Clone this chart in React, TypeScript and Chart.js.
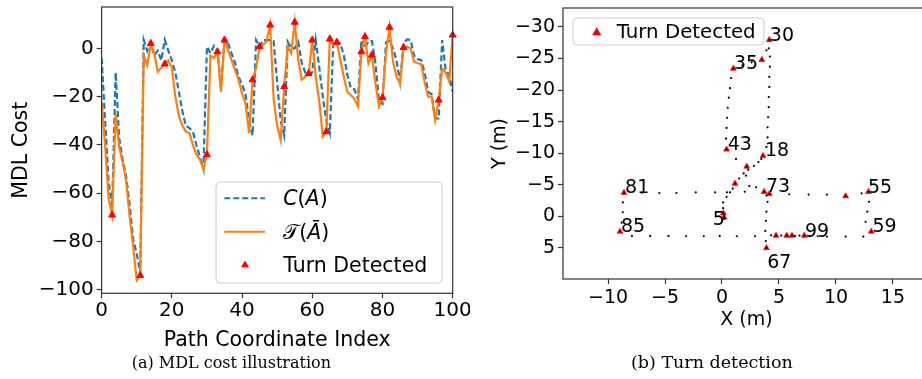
import React, { useEffect, useRef } from 'react';
import { Chart, registerables } from 'chart.js';

Chart.register(...registerables);

const BLUE = '#1f77b4';
const ORANGE = '#ff7f0e';
const RED = '#ff0000';
const FONT = '"DejaVu Sans", "Noto Sans", sans-serif';

// ---------- (a) MDL cost illustration ----------
const costC = [
  -4, -30, -55, -66, -10, -37, -46, -53, -65, -79,
  -85, -93, 3.5, -1, 2.5, -3, -1, -5, 3.5, -1,
  -5, -10, -18, -26, -32, -33, -34.5, -40, -45, -50,
  0.7, -2, 1, -1, -16, 3.4, 2, -2, -6, -11.7,
  -15, -19, -30, -36, 3.4, 0.7, 3.4, 3.4, 3.4, 3,
  -14, -30, -36, 2.7, 0, 0, 2.7, -6, -10, -11,
  -10, 3.4, -8, -20, -30, -35, 3, 2, 2, -3,
  -11, -16.5, -17, -21, 3.4, 0, 3, 3, -6, -22,
  -23, 2.5, 3, 0, -5, -14, 2, 3.7, 3.5, -3,
  -4.5, -4.8, -10, -18, -19, -29, -29, 3.4, -9, -11,
  -18,
];
const costT = [
  -22, -40, -62, -69, -27, -41, -47, -55, -70, -82,
  -96, -94, -3, -7, 2, -2, -9.7, -8, -6.5, -5,
  -8, -20, -28, -32, -34.5, -35, -40, -44, -46, -50,
  -44, -3, -4, -1.4, -18, 3.4, -0.7, -4.8, -9, -13,
  -18.6, -22.8, -35, -13, -8, 0.7, 1.4, 3, 9.6, -21,
  -32, -38, -15.9, 0.7, -2, 10.8, -4.8, -13, -11.7, -10.4,
  3.4, -12, -22, -36.6, -34.5, 3.9, 1.4, 2.5, -4.8, -12,
  -18, -19.3, -21, -24, -1.4, 4.8, -6.2, -2.8, -14.5, -24,
  -20.4, -2, 8.7, -5.5, -11.7, -14.5, 0.3, 0.7, 0, -5.5,
  -6.2, -6.5, -14, -20, -20, -29.7, -21.4, -8.3, -10, -13.8,
  5.5,
];
const leftTurnIdx = [3, 11, 14, 18, 30, 33, 35, 43, 45, 48, 52, 55, 59, 60, 64, 65, 67, 74, 75, 77, 80, 82, 86, 96, 100];
const leftXTicks = [0, 20, 40, 60, 80, 100];
const leftYTicks = [-100, -80, -60, -40, -20, 0];

// ---------- (b) Turn detection ----------
const pathX = [
  0.2, 0.18, 0.18, 0.18, 0.15, 0.12, 0.1, 0.1, 0.4, 0.7,
  0.95, 1.14, 1.5, 1.9, 2.3, 2.8, 3.2, 3.45, 3.6, 3.9,
  4.0, 4.0, 4.05, 4.1, 4.1, 4.15, 4.15, 4.2, 4.2, 4.1,
  4.15, 3.9, 3.5, 2.6, 1.8, 1.0, 0.8, 0.7, 0.6, 0.5,
  0.45, 0.4, 0.35, 0.4, 1.23, 2.17, 2.1, 2.4, 3.0, 4.15,
  5.9, 7.6, 9.2, 10.85, 12.25, 12.85, 12.9, 12.75, 12.6, 13.1,
  12.4, 10.85, 9.2, 7.7, 6.14, 4.74, 3.84, 3.9, 3.8, 3.85,
  3.9, 4.0, 3.9, 3.7, 2.0, 0.44, -0.6, -2.3, -4.0, -5.5,
  -7.05, -8.6, -8.7, -8.7, -8.8, -8.95, -7.9, -6.3, -4.7, -3.15,
  -1.6, -0.2, 1.3, 2.9, 4.3, 5.2, 5.68, 6.4, 6.8, 7.22,
  8.4,
];
const pathY = [
  0.4, 0.3, 0.15, 0.15, -0.2, -0.5, -1.3, -2.2, -3.1, -3.8,
  -4.4, -5.2, -6.0, -6.8, -7.4, -8.0, -8.6, -9.1, -9.6, -11.0,
  -12.5, -14.1, -15.7, -17.3, -18.9, -20.5, -22.1, -23.7, -25.3, -26.6,
  -27.95, -26.3, -24.8, -24.4, -23.9, -23.4, -21.9, -20.3, -18.8, -17.2,
  -15.6, -14.0, -12.3, -10.6, -9.1, -7.9, -6.45, -4.8, -4.6, -3.55,
  -3.5, -3.45, -3.45, -3.2, -3.65, -3.9, -2.3, -0.75, 0.85, 2.4,
  3.2, 3.2, 3.2, 3.15, 3.05, 3.05, 3.9, 5.0, 2.3, 0.7,
  -0.75, -2.3, -3.3, -3.9, -3.9, -3.8, -3.8, -3.8, -3.7, -3.7,
  -3.75, -3.75, -2.2, -0.65, 1.0, 2.4, 3.1, 3.1, 3.1, 3.15,
  3.15, 3.1, 3.15, 3.15, 3.0, 3.05, 3.05, 3.1, 3.05, 3.05,
  3.15,
];
const rightTurnIdx = [3, 5, 11, 18, 30, 32, 35, 43, 45, 49, 53, 55, 59, 64, 65, 67, 73, 81, 85, 96, 99];
const labelText = ['30', '35', '43', '18', '73', '55', '59', '99', '67', '5', '81', '85'];
const labelX = [4.2, 1.05, 0.5, 3.77, 3.86, 12.8, 13.2, 7.28, 3.97, -0.82, -8.5, -8.86];
const labelY = [-27.8, -23.3, -10.5, -9.5, -3.8, -3.75, 2.5, 3.2, 8.2, 1.36, -3.65, 2.5];
const rightXTicks = [-10, -5, 0, 5, 10, 15];
const rightYTicks = [-30, -25, -20, -15, -10, -5, 0, 5];

const legendA = [
  [['C', true], ['(', false], ['A', true], [')', false]],
  [['\u{1D4AF}', false], ['(', false], ['\u0100', true], [')', false]],
  [['Turn Detected', false]],
];
const legendB = 'Turn Detected';

const fmt = (v: number) => (v < 0 ? '\u2212' + Math.abs(v) : String(v));

function roundRect(ctx: any, x: number, y: number, w: number, h: number, r: number) {
  ctx.beginPath();
  ctx.moveTo(x + r, y);
  ctx.arcTo(x + w, y, x + w, y + h, r);
  ctx.arcTo(x + w, y + h, x, y + h, r);
  ctx.arcTo(x, y + h, x, y, r);
  ctx.arcTo(x, y, x + w, y, r);
  ctx.closePath();
}

function tri(ctx: any, x: number, y: number, r: number) {
  const a = (2 * Math.PI) / 3;
  ctx.beginPath();
  ctx.moveTo(x, y - r);
  ctx.lineTo(x + r * Math.sin(a), y - r * Math.cos(a));
  ctx.lineTo(x + r * Math.sin(2 * a), y - r * Math.cos(2 * a));
  ctx.closePath();
}

const framePlugin = {
  id: 'frame',
  afterDatasetsDraw(chart: any) {
    const { ctx, chartArea: a } = chart;
    ctx.save();
    ctx.strokeStyle = '#333';
    ctx.lineWidth = 1.2;
    ctx.strokeRect(a.left, a.top, a.right - a.left, a.bottom - a.top);
    ctx.restore();
  },
};

const legendLeftPlugin = {
  id: 'legendLeft',
  afterDraw(chart: any) {
    const { ctx, chartArea: a } = chart;
    const bw = 226, bh = 101;
    const bx = a.right - 10.7 - bw;
    const by = a.bottom - 10.3 - bh;
    ctx.save();
    roundRect(ctx, bx, by, bw, bh, 4);
    ctx.fillStyle = 'rgba(255,255,255,0.8)';
    ctx.fill();
    ctx.strokeStyle = '#cccccc';
    ctx.lineWidth = 1;
    ctx.stroke();
    const rows = [by + 16.3, by + 49.7, by + 83];
    const hx0 = bx + 8.3, hx1 = bx + 49;
    ctx.lineWidth = 2;
    ctx.strokeStyle = BLUE;
    ctx.setLineDash([6, 3]);
    ctx.beginPath(); ctx.moveTo(hx0, rows[0]); ctx.lineTo(hx1, rows[0]); ctx.stroke();
    ctx.setLineDash([]);
    ctx.strokeStyle = ORANGE;
    ctx.beginPath(); ctx.moveTo(hx0, rows[1]); ctx.lineTo(hx1, rows[1]); ctx.stroke();
    tri(ctx, bx + 29, rows[2], 4.6);
    ctx.fillStyle = RED;
    ctx.fill();
    ctx.fillStyle = '#000';
    ctx.textAlign = 'left';
    ctx.textBaseline = 'alphabetic';
    legendA.forEach((segs: any, k: number) => {
      let x = bx + 67.3;
      segs.forEach(([t, it]: any) => {
        ctx.font = (it ? 'italic ' : '') + '20.5px ' + FONT;
        ctx.fillText(t, x, rows[k] + 6.8);
        x += ctx.measureText(t).width;
      });
    });
    ctx.restore();
  },
};

const legendRightPlugin = {
  id: 'legendRight',
  afterDraw(chart: any) {
    const { ctx, chartArea: a } = chart;
    const bw = 191, bh = 27;
    const bx = a.left + 10, by = a.top + 10;
    ctx.save();
    roundRect(ctx, bx, by, bw, bh, 4);
    ctx.fillStyle = 'rgba(255,255,255,0.8)';
    ctx.fill();
    ctx.strokeStyle = '#cccccc';
    ctx.lineWidth = 1;
    ctx.stroke();
    tri(ctx, bx + 23.7, by + 14.6, 5.3);
    ctx.fillStyle = RED;
    ctx.fill();
    ctx.fillStyle = '#000';
    ctx.font = '19.8px ' + FONT;
    ctx.textAlign = 'left';
    ctx.textBaseline = 'alphabetic';
    ctx.fillText(legendB, bx + 43.7, by + 20.3);
    ctx.restore();
  },
};

const annotPlugin = {
  id: 'annot',
  afterDatasetsDraw(chart: any) {
    const { ctx, scales } = chart;
    ctx.save();
    ctx.fillStyle = '#000';
    ctx.font = '19px ' + FONT;
    ctx.textAlign = 'left';
    ctx.textBaseline = 'alphabetic';
    labelText.forEach((t, i) => {
      ctx.fillText(t, scales.x.getPixelForValue(labelX[i]), scales.y.getPixelForValue(labelY[i]));
    });
    ctx.restore();
  },
};

const tickGrid = { drawOnChartArea: false, drawTicks: true, tickLength: 5, tickWidth: 1.2, tickColor: '#333', color: '#333' };

const fixX = (h: number) => (s: any) => { s.height = h; s.paddingLeft = 0; s.paddingRight = 0; };
const fixY = (w: number) => (s: any) => { s.width = w; s.paddingTop = 0; s.paddingBottom = 0; };

function makeLeft(canvas: HTMLCanvasElement) {
  return new Chart(canvas, {
    type: 'line',
    data: {
      datasets: [
        {
          label: 'Turn Detected',
          data: leftTurnIdx.map((i) => ({ x: i, y: costT[i] })),
          showLine: false,
          pointStyle: 'triangle',
          pointRadius: 4,
          pointBackgroundColor: RED,
          pointBorderColor: RED,
          pointBorderWidth: 1,
          clip: false,
          order: 0,
        } as any,
        {
          label: 'T',
          data: costT.map((v, i) => ({ x: i, y: v })),
          borderColor: ORANGE,
          borderWidth: 2.2,
          pointRadius: 0,
          tension: 0,
          order: 1,
        },
        {
          label: 'C',
          data: costC.map((v, i) => ({ x: i, y: v })),
          borderColor: BLUE,
          borderWidth: 2.2,
          borderDash: [6, 3],
          pointRadius: 0,
          tension: 0,
          order: 2,
        },
      ],
    },
    options: {
      responsive: false,
      animation: false,
      devicePixelRatio: 1,
      layout: { padding: { left: 0, right: 470 - 452.7, top: 7, bottom: 0 } },
      plugins: { legend: { display: false }, tooltip: { enabled: false } },
      scales: {
        x: {
          type: 'linear',
          min: 0,
          max: 100,
          afterBuildTicks: (s: any) => { s.ticks = leftXTicks.map((v) => ({ value: v })); },
          afterFit: fixX(379 - 293.3),
          ticks: { font: { family: FONT, size: 20 }, color: '#000', padding: 0, maxRotation: 0, autoSkip: false, callback: (v: any) => fmt(v) },
          grid: tickGrid,
          border: { display: false },
          title: { display: true, text: 'Path Coordinate Index', color: '#000', font: { family: FONT, size: 20.5 }, padding: { top: 0, bottom: 26.2 } },
        },
        y: {
          type: 'linear',
          min: -101.4,
          max: 17.1,
          afterBuildTicks: (s: any) => { s.ticks = leftYTicks.map((v) => ({ value: v })); },
          afterFit: fixY(101.6),
          ticks: { font: { family: FONT, size: 20 }, color: '#000', padding: 3, autoSkip: false, callback: (v: any) => fmt(v) },
          grid: tickGrid,
          border: { display: false },
          title: { display: true, text: 'MDL Cost', color: '#000', font: { family: FONT, size: 20.5 }, padding: { top: 9.7, bottom: 0 } },
        },
      },
    } as any,
    plugins: [framePlugin, legendLeftPlugin],
  });
}

function makeRight(canvas: HTMLCanvasElement) {
  return new Chart(canvas, {
    type: 'scatter',
    data: {
      datasets: [
        {
          label: 'path',
          data: pathX.map((x, i) => ({ x, y: pathY[i] })),
          pointRadius: 1.1,
          pointBackgroundColor: '#000',
          pointBorderWidth: 0,
          showLine: false,
          order: 0,
        },
        {
          label: 'Turn Detected',
          data: rightTurnIdx.map((i) => ({ x: pathX[i], y: pathY[i] })),
          pointStyle: 'triangle',
          pointRadius: 3.3,
          pointBackgroundColor: RED,
          pointBorderColor: RED,
          pointBorderWidth: 0.8,
          showLine: false,
          order: 1,
        } as any,
      ],
    },
    options: {
      responsive: false,
      animation: false,
      devicePixelRatio: 1,
      layout: { padding: { left: 0, right: 10, top: 8, bottom: 0 } },
      plugins: { legend: { display: false }, tooltip: { enabled: false } },
      scales: {
        x: {
          type: 'linear',
          min: -13.95,
          max: 18.25,
          afterBuildTicks: (s: any) => { s.ticks = rightXTicks.map((v) => ({ value: v })); },
          afterFit: fixX(379 - 279),
          ticks: { font: { family: FONT, size: 19 }, color: '#000', padding: 3, maxRotation: 0, autoSkip: false, callback: (v: any) => fmt(v) },
          grid: tickGrid,
          border: { display: false },
          title: { display: true, text: 'X (m)', color: '#000', font: { family: FONT, size: 19 }, padding: { top: 0, bottom: 47.3 } },
        },
        y: {
          type: 'linear',
          reverse: true,
          min: -33,
          max: 9.92,
          afterBuildTicks: (s: any) => { s.ticks = rightYTicks.map((v) => ({ value: v })); },
          afterFit: fixY(93),
          ticks: { font: { family: FONT, size: 19 }, color: '#000', padding: 3, autoSkip: false, callback: (v: any) => fmt(v) },
          grid: tickGrid,
          border: { display: false },
          title: { display: true, text: 'Y (m)', color: '#000', font: { family: FONT, size: 19 }, padding: { top: 18.6, bottom: 0 } },
        },
      },
    } as any,
    plugins: [framePlugin, annotPlugin, legendRightPlugin],
  });
}

const captionStyle = (left: number, size: number): React.CSSProperties => ({
  position: 'absolute',
  left,
  top: 368.7 - size * 0.847,
  font: size + 'px "DejaVu Serif", "Liberation Serif", serif',
  lineHeight: size + 'px',
  whiteSpace: 'nowrap',
  color: '#000',
});

export default function App() {
  const leftRef = useRef<HTMLCanvasElement>(null);
  const rightRef = useRef<HTMLCanvasElement>(null);
  useEffect(() => {
    const c1 = makeLeft(leftRef.current as HTMLCanvasElement);
    const c2 = makeRight(rightRef.current as HTMLCanvasElement);
    return () => {
      c1.destroy();
      c2.destroy();
    };
  }, []);
  return (
    <div style={{ position: 'fixed', left: 0, top: 0, width: 922, height: 379, overflow: 'hidden', background: '#fff' }}>
      <canvas ref={leftRef} width={470} height={379} style={{ position: 'absolute', left: 0, top: 0, width: 470, height: 379 }} />
      <canvas ref={rightRef} width={470} height={379} style={{ position: 'absolute', left: 470, top: 0, width: 470, height: 379 }} />
      <div style={captionStyle(131.7, 16)}>(a) MDL cost illustration</div>
      <div style={captionStyle(631, 17.5)}>(b) Turn detection</div>
    </div>
  );
}
